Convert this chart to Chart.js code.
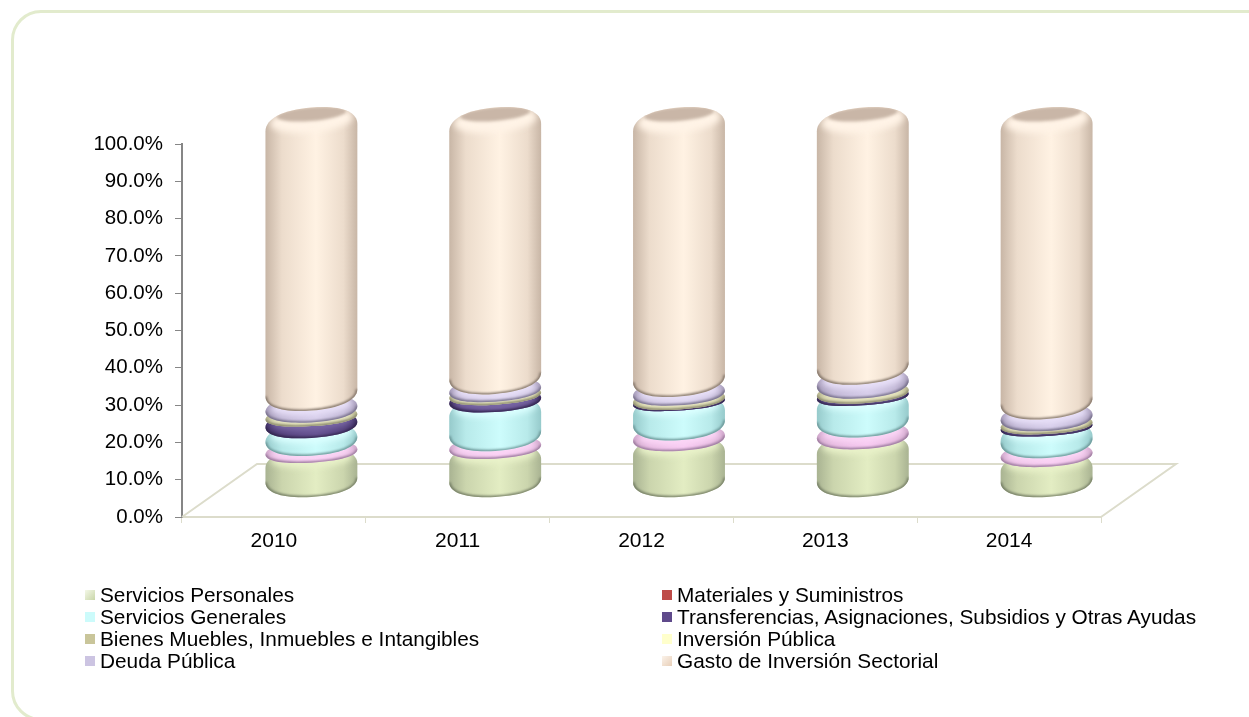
<!DOCTYPE html>
<html lang="es">
<head>
<meta charset="utf-8">
<title>Gasto por capítulo</title>
<script src="https://cdn.jsdelivr.net/npm/chart.js@4/dist/chart.umd.min.js"></script>
<style>
  html, body { margin: 0; background: #fff; overflow: hidden; }
  #page { position: relative; width: 1249px; height: 717px; overflow: hidden; }
  #frame { position: absolute; left: 11px; top: 10px; width: 1270px; height: 705px; border: 3px solid #e2ebcd; border-radius: 30px; }
  #chart { position: absolute; left: 0; top: 0; }
  .item { position: absolute; font: 20.8px "Liberation Sans", Arial, sans-serif; line-height: 22px; color: #000; white-space: nowrap; }
  .item i { position: absolute; left: -15px; top: 6px; width: 10px; height: 10px; }
</style>
</head>
<body>
<div id="page">
  <div id="frame"></div>
  <canvas id="chart" width="1249" height="717"></canvas>
  <div id="legend"></div>
</div>
<script>
const years = ["2010", "2011", "2012", "2013", "2014"];

const serviciosPersonales = [9.4, 10.5, 12.6, 13.1, 8.3];
const materiales = [1.9, 2.1, 2.9, 3.2, 2.4];
const serviciosGenerales = [4.8, 10.5, 8.0, 8.6, 5.9];
const transferencias = [3.2, 2.0, 0.3, 0.6, 0.6];
const bienes = [1.0, 0.8, 1.1, 1.3, 0.8];
const inversionPublica = [0, 0, 0, 0, 0];
const deudaPublica = [3.2, 2.1, 2.4, 3.8, 3.2];
const gastoSectorial = [76.5, 72.0, 72.7, 69.4, 78.8];

const names = [
  "Servicios Personales", "Materiales y Suministros",
  "Servicios Generales", "Transferencias, Asignaciones, Subsidios y Otras Ayudas",
  "Bienes Muebles, Inmuebles e Intangibles", "Inversión Pública",
  "Deuda Pública", "Gasto de Inversión Sectorial"
];
const values = [serviciosPersonales, materiales, serviciosGenerales, transferencias, bienes, inversionPublica, deudaPublica, gastoSectorial];

// edge, middle, top face, light rim, dark lower edge, mid tone between edge and middle
const tones = [
  ["#a9b392", "#e3edc3", "#d2dbb3", "#e9f2c9", "#767f66", "#cbd5ad"],
  ["#cda6c9", "#f7c9f1", "#e2b6dc", "#fbd6f6", "#97779a", "#e6bae0"],
  ["#96cacb", "#cdfcfc", "#b4e6e6", "#dcffff", "#6a9596", "#b8eaea"],
  ["#3f2f63", "#64508f", "#4f3d78", "#7a68a6", "#33264f", "#54417c"],
  ["#b5b48d", "#dcdbb2", "#cfcea6", "#e6e5bf", "#88876a", "#cccba2"],
  ["#d8d8ae", "#ffffcc", "#f0f0c0", "#ffffdd", "#b0b090", "#eeeebf"],
  ["#a398b6", "#d6cdea", "#baafcc", "#e8e0f8", "#746e88", "#c2b8d6"],
  ["#c8b6a6", "#fff2e3", "#c9b6a7", "#fff3e6", "#837569", "#ecdccc"]
];
const legendColors = [
  "linear-gradient(135deg,#f4f8e8,#c9d6a8)", "#be4b48", "#ccfbfb", "#5f4a8b",
  "#c9c59a", "#ffffcc", "#ccc4e2", "linear-gradient(135deg,#fbf3ea,#e8cfb8)"
];

const depthX = 75, depthY = 53;   // floor depth, bars stand half way into it

function lerpByHeight(y, low, high) {
  return low + (high - low) * (491 - y) / 373;
}

function discPath(ctx, w, h, ryTop, ryBot, r) {
  const k = 0.62;
  const top = -h / 2 + r, bot = h / 2 - r;
  const rt = ryTop + r, rb = ryBot + r;
  ctx.beginPath();
  ctx.moveTo(-w, bot);
  ctx.lineTo(-w, top);
  ctx.bezierCurveTo(-w, top - k * rt, -k * w, top - rt, 0, top - rt);
  ctx.bezierCurveTo(k * w, top - rt, w, top - k * rt, w, top);
  ctx.lineTo(w, bot);
  ctx.bezierCurveTo(w, bot + k * rb, k * w, bot + rb, 0, bot + rb);
  ctx.bezierCurveTo(-k * w, bot + rb, -w, bot + k * rb, -w, bot);
  ctx.closePath();
}

function drawDisc(ctx, el, tone) {
  const w = el.width / 2;
  const yt = el.y - depthY / 2, yb = el.base - depthY / 2;
  const h = yb - yt;
  if (h < 0.5) return;
  const ryT = lerpByHeight(yt, 7, 10), ryB = lerpByHeight(yb, 7, 10);
  const r = Math.min(h / 2, 10);
  const k = 0.62;
  ctx.save();
  ctx.translate(el.x + depthX / 2, (yt + yb) / 2);
  // shear, so the sides of the tall bars stay upright
  ctx.transform(1, -lerpByHeight((yt + yb) / 2, 0.05, 0.1), 0, 1, 0, 0);
  discPath(ctx, w, h, ryT, ryB, r);
  const body = ctx.createLinearGradient(-w, 0, w, 0);
  body.addColorStop(0, tone[0]);
  body.addColorStop(0.18, tone[5]);
  body.addColorStop(0.55, tone[1]);
  body.addColorStop(0.85, tone[5]);
  body.addColorStop(1, tone[0]);
  ctx.fillStyle = body;
  ctx.fill();
  ctx.clip();

  // light rim and the darker top face
  ctx.filter = "blur(3px)";
  ctx.fillStyle = tone[3];
  ctx.beginPath();
  ctx.ellipse(0, -h / 2 + 3, w * 0.9, ryT + 2, 0, 0, Math.PI * 2);
  ctx.fill();
  ctx.filter = "blur(1.5px)";
  ctx.fillStyle = tone[2];
  ctx.beginPath();
  ctx.ellipse(0, -h / 2 - ryT * 0.35, w * 0.76, ryT * 0.7, 0, 0, Math.PI * 2);
  ctx.fill();

  // dark lower edge only
  ctx.filter = "blur(1.2px)";
  const bot = h / 2 - r, rb = ryB + r;
  ctx.beginPath();
  ctx.moveTo(w, bot);
  ctx.bezierCurveTo(w, bot + k * rb, k * w, bot + rb, 0, bot + rb);
  ctx.bezierCurveTo(-k * w, bot + rb, -w, bot + k * rb, -w, bot);
  ctx.strokeStyle = tone[4];
  ctx.lineWidth = 3;
  ctx.stroke();
  ctx.restore();
}

const cylinders = {
  id: "cylinders",
  beforeDatasetsDraw(chart) {
    const ctx = chart.ctx, a = chart.chartArea;
    ctx.save();
    ctx.strokeStyle = "#dcdccb";
    ctx.lineWidth = 2;
    ctx.beginPath();
    ctx.moveTo(a.left, a.bottom);
    ctx.lineTo(a.left + depthX, a.bottom - depthY);
    ctx.lineTo(a.right + depthX, a.bottom - depthY);
    ctx.lineTo(a.right, a.bottom);
    ctx.stroke();
    ctx.restore();
  },
  afterDatasetsDraw(chart) {
    chart.data.datasets.forEach((ds, i) => {
      chart.getDatasetMeta(i).data.forEach(el => drawDisc(chart.ctx, el, tones[i]));
    });
  }
};

new Chart(document.getElementById("chart"), {
  type: "bar",
  data: {
    labels: years,
    datasets: values.map((data, i) => ({
      label: names[i],
      data: data,
      backgroundColor: "rgba(0,0,0,0)",
      categoryPercentage: 0.5,
      barPercentage: 1
    }))
  },
  options: {
    responsive: false,
    animation: false,
    layout: { padding: { left: 0, right: 148, top: 144, bottom: 140 } },
    plugins: { legend: { display: false }, tooltip: { enabled: false } },
    scales: {
      x: {
        stacked: true,
        afterFit(s) { s.height = 60; },
        border: { color: "#dcdccb", width: 2 },
        grid: { drawOnChartArea: false, tickLength: 6, tickColor: "#dcdccb", tickWidth: 1 },
        ticks: { color: "#000", font: { family: "Liberation Sans", size: 21 }, padding: 6, maxRotation: 0 }
      },
      y: {
        stacked: true,
        min: 0,
        max: 100,
        afterFit(s) { s.width = 182; },
        border: { color: "#868686", width: 2 },
        grid: { drawOnChartArea: false, tickLength: 7, tickColor: "#868686", tickWidth: 1 },
        ticks: {
          stepSize: 10,
          color: "#000",
          font: { family: "Liberation Sans", size: 20.5 },
          padding: 12,
          callback: v => v.toFixed(1) + "%"
        }
      }
    }
  },
  plugins: [cylinders]
});

// two column legend, filled across then down
const legend = document.getElementById("legend");
names.forEach((name, i) => {
  const item = document.createElement("div");
  item.className = "item";
  item.style.left = (i % 2 ? 677 : 100) + "px";
  item.style.top = (584 + 22 * Math.floor(i / 2)) + "px";
  item.textContent = name;
  const mark = document.createElement("i");
  mark.style.background = legendColors[i];
  item.prepend(mark);
  legend.appendChild(item);
});
</script>
</body>
</html>
